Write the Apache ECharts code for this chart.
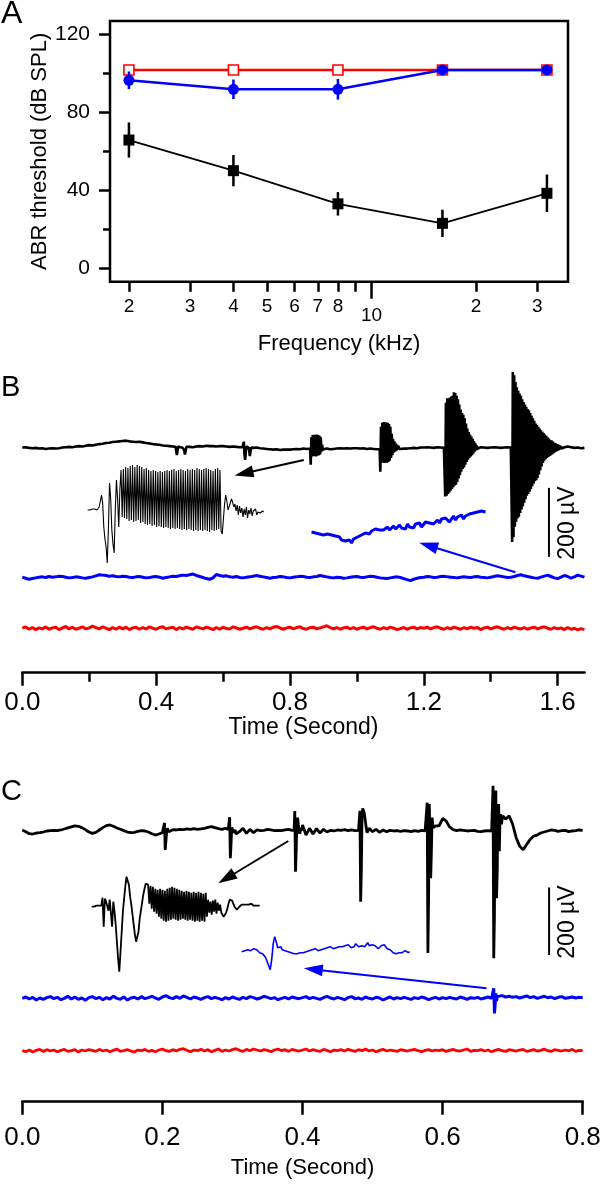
<!DOCTYPE html>
<html><head><meta charset="utf-8">
<script src="https://cdn.jsdelivr.net/npm/echarts@6/dist/echarts.min.js"></script>
<style>html,body{margin:0;padding:0;background:#fff}#c{width:602px;height:1186px}</style>
</head><body><div id="c"></div>
<script>
// ===== Panel A: ABR thresholds =====
const freqKHz  = [2, 4, 8, 16, 32];
const thrBlack = [65.7, 50, 33, 23, 38.4];
const errBlack = [9, 8, 6, 7, 9.6];
const thrBlue  = [96.3, 91.7, 91.7, 101.6, 101.6];
const errBlue  = [4.5, 5, 5.3, 0, 0];
const thrRed   = [101.6, 101.6, 101.6, 101.6, 101.6];
const yTicksA  = [0, 40, 80, 120];
const yMinorA  = [20, 60, 100];
const xTicksA  = [2, 3, 4, 5, 6, 7, 8, 9, 20, 30];
const xLabelsA = [2, 3, 4, 5, 6, 7, 8, 20, 30];
const xDecadeA = [10];

// ===== Panel B: recordings (µV, sampled every 0.01 s) =====
const bTicks = [0, 0.4, 0.8, 1.2, 1.6];
const bMinorTicks = [0.2, 0.6, 1.0, 1.4];
const bBlackBase = [
0,1,-1,-2,-1,-3,-2,-4,-3,-2, -3,-2,0,1,2,1,3,4,3,5, 7,6,8,10,11,13,14,16,17,18, 19,20,18,17,16,17,15,13,12,10,
9,8,6,5,4,3,2,3,2,2, 2,1,3,4,3,5,4,4,3,4, 4,3,2,3,2,1,0,-1,0,-1, 0,-2,-3,-4,-5,-6,-5,-7,-6,-6,
-6,-5,-4,-5,-3,-4,-3,-2,-4,-3, -4,-3,-5,-4,-3,-2,-3,-2,-3,-2, -2,-3,-2,-4,-3,-4,-5,-4,-5,-4, -6,-5,-4,-5,-3,-3,-2,-1,-2,0,
0,1,0,-1,1,0,-1,0,1,-1, 0,1,-1,0,1,0,-1,1,0,-1, 0,1,0,-1,0,1,0,-1,0,1, -1,2,0,1,-1,0,2,1,0,-1, 0,2,4,3,1,-1,0,-2,-1];
// bursts (sampled every 0.002 s) and their start times
const bBurstStart = [0.458, 0.658, 0.860, 1.068, 1.262, 1.462];
const bBurst1 = [2,-10,-22,-8,3,1,0,1,0,-1,0,1,0,-8,-20,-11,2,1,2];
const bBurst2 = [1,6,17,-20,-36,-12,3,1,2,0,-8,-25,-12,0,-1];
const bBurst3 = [-3,-50,30,-26,36,-22,37,-25,35,-26,38,-24,36,-22,34,-20,30,-12,8,-6,-3];
const bBurst4 = [-4,-70,60,-44,72,-42,74,-45,70,-40,73,-44,71,-42,68,-38,60,-30,40,-22,25,-15,18,-12,12,-9,8,-6,5,-4,-5];
const bBurst5 = [0,-142,130,-140,143,-135,140,-130,145,-125,148,-120,150,-115,160,-110,158,-108,150,-100,140,-90,125,-80,110,-70,100,-62,95,-58,85,-50,70,-42,55,-35,45,-30,38,-26,32,-22,25,-17,18,-12,12,-8,6,-4,1];
const bBurst6 = [0,-274,219,-260,210,-230,190,-215,175,-205,165,-201,157,-190,150,-180,140,-170,132,-160,125,-150,118,-140,112,-135,108,-128,100,-120,92,-112,85,-105,78,-98,70,-95,65,-88,60,-78,55,-66,50,-55,46,-45,42,-38,38,-34,34,-30,30,-27,26,-24,22,-22,20,-19,17,-16,14,-13,12,-11,10,-9,8,-7,6,-5,4,-3,2,-1,0];
const bBlueBase = [
0,-3,-6,-4,-2,0,1,-1,2,0, 1,3,2,0,-2,-1,1,0,-2,-3, -1,1,4,7,6,5,3,4,2,1, 3,2,0,-1,1,2,0,-2,-1,1,
2,0,-3,-1,1,3,2,4,6,5, 7,9,5,2,-1,-4,-6,-2,8,5, 3,4,1,0,2,-1,-2,0,1,3, 5,3,1,-1,-3,-1,0,2,1,-1,
-2,0,1,3,2,0,-1,1,2,5, 3,1,-1,-2,0,-1,-3,-2,0,1, 2,0,-1,1,3,2,0,-2,-3,-4, -2,0,1,-1,-4,-7,-10,-6,-3,-1,
0,2,1,-1,0,2,3,1,0,-1, -2,0,1,0,-1,1,2,0,-1,-2, 0,2,4,3,1,-1,0,2,5,7, 4,2,0,-2,-3,0,3,6,2,-2, -4,0,5,2,-3,1,6,3,0];
const bRedBase = [
0,4,-3,2,-4,1,-2,4,-3,1, 3,-4,1,5,-2,3,-3,0,4,-2, 1,6,2,-2,4,0,-4,2,-3,3, -2,3,-4,1,3,-3,2,-2,4,0,
-3,2,4,-2,1,3,-4,2,-2,3, 0,-3,4,1,-2,3,0,-4,2,-3, 3,-1,-2,4,1,-3,0,3,-2,2, 4,0,-3,2,-2,3,5,1,-3,1,
3,-2,2,4,-1,-3,2,3,-2,1, 4,7,2,-2,2,-3,1,3,-2,2, -3,1,3,-2,2,4,0,-3,2,-2, 3,0,-4,-1,2,-3,1,3,-2,2,
0,3,-2,2,4,0,-3,2,-2,3, 0,-3,2,-2,3,0,2,-4,1,3, -2,2,4,0,-3,2,-2,3,0,-2, 2,-3,1,3,-2,2,4,0,-3,2, -2,1,-4,2,-3,0,-5,-1,-4];
// insets (panel units, one sample per step)
const bInsetBlack = [
-1,0,-1,1,0,-1,0,1,-1,0, 2,8,14,6,-18, -30,-38,-54,-20,26, 10,-21,-35,-44,0, 29,10,-18,20,39,
-8,40,-9,42,-10,41,-12,43,-11,44, -13,42,-12,44,-11,43,-14,42,-13,40, -15,41,-16,39,-15,38,-17,39,-16,38,
-18,37,-17,38,-18,37,-19,38,-18,39, -19,38,-20,39,-19,40,-20,38,-19,39, -20,40,-21,39,-20,38,-21,40,-20,39,
-21,40,-22,39,-21,41,-22,40,-21,39, -22,40,-21,41,-22,40,-23,39,-21,38, -22,40,-21,41,-20,39,-22,
-25,-10,5,14,8,-1,-3,6,10,7, 2,5,-2,4,-6,3,-4,1,-8,0, -6,2,-9,-1,-5,1,-7,-2,-4,0, -6,-3,-2,-4,-3,-2,-3];
const bInsetBlue = [
0,2,-1,1,-2,0,-3,-1,-2,-4, -3,-5,-4,-6,-5,-8,-7,-9,-10,-8, -11,-7,-9,-5,-6,-3,-4,-1,0,-2, 1,0,3,1,2,4,2,3,5,2,
4,6,3,5,7,4,6,3,8,5, 7,4,8,6,9,5,7,10,8,9, 11,8,10,12,9,13,11,14,12,10, 13,16,12,15,14,17,13,16,15,18, 16,19,17,20,18,21,19,20];
const scaleBarUV = 200;

// ===== Panel C: recordings (µV, sampled every 0.005 s) =====
const cTicks = [0, 0.2, 0.4, 0.6, 0.8];
const cBlackBase = [
3,-2,-8,-9,-6,-5,-3,0,1,2, 1,3,6,9,12,15,14,10,4,-3, -7,-4,3,10,16,18,14,9,5,1, -3,-5,-4,-1,1,0,-3,-8,-12,-9,
-5,2,3,4,3,5,4,6,5,7, 5,6,8,11,13,10,7,5,8,10, 0,-9,-2,8,-7,5,-5,3,1,2, 5,3,1,2,1,3,5,2,1,0,
18,-12,8,-9,7,-6,5,-3,2,0, 3,2,4,1,3,1,2,3,0,2, -2,5,-4,3,-2,2,0,1,-1,1, 0,-2,1,-1,2,0,-1,1,2,15,
37,30,12,4,1,3,2,0,1,2, -1,-2,0,1,2,-1,1,0,35,45, 20,-20,-45,-56,-40,-25,-15,-12,-6,-3, 0,3,2,-1,1,2,-2,0,1,3, 2];
// click responses (sampled every 0.001 s) and their start times
const cSpikeStart = [0.200, 0.294, 0.387, 0.480, 0.576, 0.670];
const cSpike1 = [-5,-4,-3,24,-56,-30,-5,8,3,-2,1,2];
const cSpike2 = [5,6,41,-81,-40,10,15,5,-5,0,3];
const cSpike3 = [0,2,59,-121,-60,30,40,20,5,-8,-3,8,2];
const cSpike4 = [2,3,60,-210,-120,50,67,62,55,40,25,10,-5,-10,2,8,3];
const cSpike5 = [1,2,84,-362,-200,80,75,-140,-60,40,20,10,5,10,15];
const cSpike6 = [0,3,134,-378,-250,100,120,-200,-120,60,80,-60,40,50,20,35,45];
const cBlueBase = [
0,4,-2,3,-5,1,-3,2,5,-1, 3,-4,0,6,-2,4,-3,1,-6,2, 5,-1,3,-4,2,-2,6,0,-3,4, -5,1,3,-2,5,-1,2,6,1,-3,
4,8,2,-1,5,0,7,3,-2,4, 1,-3,2,5,-1,3,0,-4,2,-2, 4,0,-3,3,-1,5,2,-2,1,6, 3,-1,2,-4,0,3,-2,4,1,-1,
2,5,-1,3,0,-3,2,6,1,-2, 3,0,-4,2,5,-1,1,-3,4,0, -2,3,1,-5,0,4,-2,2,-1,3, 0,-3,2,-1,4,1,-4,0,3,-2,
2,-1,3,0,-2,4,1,-3,2,0, 3,-2,1,4,0,2,5,8,4,6, 3,5,1,4,7,2,5,0,3,6, 2,4,-1,3,5,0,2,4,1,3, 2];
const cBlueSpikeStart = [0.672];
const cBlueSpike1 = [2,30,-45,-20,15,-8,5,3];
const cRedBase = [
0,-3,2,-4,1,4,-2,3,-1,2, -3,1,4,-2,0,3,-4,2,-1,3, 1,-2,4,-1,2,-3,1,5,-2,0, 3,-1,-4,2,0,4,-2,1,-3,2,
5,0,-2,3,-1,4,6,1,-3,2, 0,4,-1,3,-3,1,5,-2,2,-1, 3,6,1,-2,4,0,5,2,-1,3, 1,-3,2,5,0,3,-2,4,1,-1,
2,5,-1,3,0,-2,4,1,-3,2, 0,3,-1,4,1,-2,3,0,5,-1, 2,-3,1,4,-1,2,0,-2,3,1, -1,2,4,0,-3,1,3,-1,2,0,
3,-2,1,4,0,-1,2,5,-2,1, 0,3,-1,2,-3,1,4,0,-2,3, 1,-1,2,4,-2,0,3,-1,1,5, 0,-2,3,1,-1,2,0,4,-2,1, 0];
const cInsetBlack = [
0,1,0,-1,1,0,1,0,1, 9,-20,8,5,6,-4,7,8,-20,5,
-5,-18,-35,-52,-65,-45,-25,-5,8,20, 30,32,22,10,2,-8,-18,-28,-35,-37, -25,-12,-4,4,12,18,23,25,
22,3,21,-2,20,-5,18,-7,17,-10, 18,-12,17,-14,16,-15,18,-14,19,-13, 20,-12,19,-13,18,-14,17,-13,16,-12,
15,-13,16,-14,15,-13,14,-14,15,-15, 14,-14,15,-15,14,-14,13,-15,14,-10,
7,-6,5,-8,6,-5,7,-7,4,-4, 2,-6,-8,-10,-9,-6,-2,3,7,8, 6,3,0,-2,-3,-2,0,1,2,3, 2,3,2,3,2,2,3,2,1,2, 1,2,1,1];
const cInsetBlue = [
0,2,1,-1,2,3,1,2,3,1, 2,0,-1,-2,-2,-4,-6,-8,-14,-18, -8,8,15,10,4,3,5,2,4,1, 3,0,1,-1,0,-2,-1,-2,-1,-1,
0,-1,1,0,2,1,0,2,1,3, 2,1,3,2,4,3,2,4,3,5, 4,3,5,4,6,5,3,5,4,6, 5,7,6,4,6,5,8,6,5,7,
6,8,5,7,9,6,8,7,5,6, 4,3,5,6,4,7,5,3,1,2, 0,-1,1,-2,0,-1,1,-1,0,1,0,-1,0];

// ===== helpers =====
function buildTrace(base, dt, starts, events, evDt, offset) {
  const wins = starts.map((t0, k) => [t0, t0 + (events[k].length - 1) * evDt]);
  const pts = [];
  base.forEach((v, i) => {
    const t = +(i * dt).toFixed(4);
    if (!wins.some(w => t >= w[0] - 1e-9 && t <= w[1] + 1e-9)) pts.push([t, v + offset]);
  });
  events.forEach((arr, k) => arr.forEach((v, j) => pts.push([+(starts[k] + j * evDt).toFixed(4), v + offset])));
  pts.sort((a, b) => a[0] - b[0]);
  return pts;
}
const idx = arr => arr.map((v, i) => [i, v]);
const FONT = "'Liberation Sans', Arial, Helvetica, sans-serif";
function arrow(x1, y1, x2, y2, color, lw) {
  const dx = x2 - x1, dy = y2 - y1, L = Math.hypot(dx, dy), ux = dx / L, uy = dy / L;
  const hl = 19, hw = 6, bx = x2 - ux * hl, by = y2 - uy * hl;
  return [
    {type: 'line', silent: true, shape: {x1: x1, y1: y1, x2: bx + ux * 2, y2: by + uy * 2}, style: {stroke: color, lineWidth: lw}},
    {type: 'polygon', silent: true, shape: {points: [[x2, y2], [bx - uy * hw, by + ux * hw], [bx + uy * hw, by - ux * hw]]}, style: {fill: color}}
  ];
}
function txt(x, y, s, size, align, rot) {
  return {type: 'text', silent: true, x: x, y: y, rotation: rot || 0,
    style: {text: s, font: size + 'px ' + FONT, fill: '#000', textAlign: align || 'left', textVerticalAlign: 'middle'}};
}

// ===== offsets (layout of stacked traces, µV) =====
const offB = {black: 653, blue: 277, red: 129};
const offC = {black: 804, blue: 307, red: 151.5};

const bBlack = buildTrace(bBlackBase, 0.01, bBurstStart, [bBurst1, bBurst2, bBurst3, bBurst4, bBurst5, bBurst6], 0.002, offB.black);
const bBlue = buildTrace(bBlueBase, 0.01, [], [], 0.002, offB.blue);
const bRed = buildTrace(bRedBase, 0.01, [], [], 0.002, offB.red);
const cBlack = buildTrace(cBlackBase, 0.005, cSpikeStart, [cSpike1, cSpike2, cSpike3, cSpike4, cSpike5, cSpike6], 0.001, offC.black);
const cBlue = buildTrace(cBlueBase, 0.005, cBlueSpikeStart, [cBlueSpike1], 0.001, offC.blue);
const cRed = buildTrace(cRedBase, 0.005, [], [], 0.001, offC.red);

const axisLineStyle = {color: '#000', width: 2.5};
const hiddenAxis = (g, min, max) => ({gridIndex: g, type: 'value', min: min, max: max, show: false});

const grids = [
  {left: 110, top: 21, width: 458, height: 260.7, show: true, borderColor: '#000', borderWidth: 2.5, backgroundColor: 'transparent'},
  {left: 22.3, top: 327.9, width: 562.3, height: 344.8},
  {left: 22.3, top: 765, width: 560.4, height: 336.7},
  {left: 87.7, top: 459, width: (bInsetBlack.length - 1) * 1.15, height: 110},
  {left: 311.5, top: 507, width: (bInsetBlue.length - 1) * 2, height: 40},
  {left: 91.7, top: 866.7, width: (cInsetBlack.length - 1) * 1.2, height: 110},
  {left: 241.7, top: 931.7, width: (cInsetBlue.length - 1) * 1.5, height: 45}
].map(g => Object.assign({outerBoundsMode: 'none', containLabel: false}, g));

const tickStyle = {color: '#000', width: 2.5};
const xAxes = [
  {gridIndex: 0, type: 'log', logBase: 10, min: 1.764, max: 36.8, position: 'bottom',
   axisLine: {show: false, onZero: false}, splitLine: {show: false}, minorTick: {show: false},
   axisTick: {show: true, customValues: xTicksA, length: 10, lineStyle: tickStyle},
   axisLabel: {customValues: xLabelsA, formatter: v => String(v >= 20 ? Math.round(v / 10) : Math.round(v)), fontSize: 19, color: '#000', margin: 16, fontFamily: FONT},
   name: 'Frequency (kHz)', nameLocation: 'middle', nameGap: 51, nameMoveOverlap: false,
   nameTextStyle: {fontSize: 22, color: '#000', fontFamily: FONT}},
  {gridIndex: 0, type: 'log', logBase: 10, min: 1.764, max: 36.8, position: 'bottom',
   axisLine: {show: false, onZero: false}, splitLine: {show: false}, minorTick: {show: false},
   axisTick: {show: true, customValues: xDecadeA, length: 17, lineStyle: tickStyle},
   axisLabel: {customValues: xDecadeA, formatter: v => String(Math.round(v)), fontSize: 19, color: '#000', margin: 25, fontFamily: FONT}},
  {gridIndex: 1, type: 'value', min: 0, max: 1.6805, position: 'bottom',
   axisLine: {show: true, onZero: false, lineStyle: axisLineStyle}, splitLine: {show: false},
   axisTick: {show: true, customValues: bTicks, length: 13, lineStyle: tickStyle},
   axisLabel: {customValues: bTicks, formatter: v => v.toFixed(1), fontSize: 26, color: '#000', margin: 17, fontFamily: FONT},
   name: 'Time (Second)', nameLocation: 'middle', nameGap: 43, nameMoveOverlap: false,
   nameTextStyle: {fontSize: 23, color: '#000', fontFamily: FONT}},
  {gridIndex: 1, type: 'value', min: 0, max: 1.6805, position: 'bottom',
   axisLine: {show: false, onZero: false}, splitLine: {show: false}, axisLabel: {show: false},
   axisTick: {show: true, customValues: bMinorTicks, length: 9, lineStyle: tickStyle}},
  {gridIndex: 2, type: 'value', min: 0, max: 0.8, position: 'bottom',
   axisLine: {show: true, onZero: false, lineStyle: axisLineStyle}, splitLine: {show: false},
   axisTick: {show: true, customValues: cTicks, length: 13, lineStyle: tickStyle},
   axisLabel: {customValues: cTicks, formatter: v => v.toFixed(1), fontSize: 26, color: '#000', margin: 23, fontFamily: FONT},
   name: 'Time (Second)', nameLocation: 'middle', nameGap: 55, nameMoveOverlap: false,
   nameTextStyle: {fontSize: 22, color: '#000', fontFamily: FONT}},
  hiddenAxis(3, 0, bInsetBlack.length - 1),
  hiddenAxis(4, 0, bInsetBlue.length - 1),
  hiddenAxis(5, 0, cInsetBlack.length - 1),
  hiddenAxis(6, 0, cInsetBlue.length - 1)
];
const yAxes = [
  {gridIndex: 0, type: 'value', min: -6.9, max: 126.7, position: 'left',
   axisLine: {show: false, onZero: false}, splitLine: {show: false},
   axisTick: {show: true, customValues: yTicksA, length: 11, lineStyle: tickStyle},
   axisLabel: {customValues: yTicksA, fontSize: 21, color: '#000', margin: 20, fontFamily: FONT},
   name: 'ABR threshold (dB SPL)', nameLocation: 'middle', nameGap: 59, nameMoveOverlap: false,
   nameTextStyle: {fontSize: 22, color: '#000', fontFamily: FONT}},
  {gridIndex: 0, type: 'value', min: -6.9, max: 126.7, position: 'left',
   axisLine: {show: false, onZero: false}, splitLine: {show: false}, axisLabel: {show: false},
   axisTick: {show: true, customValues: yMinorA, length: 7, lineStyle: tickStyle}},
  hiddenAxis(1, 0, 1000),
  hiddenAxis(2, 0, 1000),
  hiddenAxis(3, -60, 50),
  hiddenAxis(4, -15, 25),
  hiddenAxis(5, -70, 40),
  hiddenAxis(6, -25, 20)
];

const trace = (name, data, xi, yi, color, w) => ({
  name: name, type: 'line', xAxisIndex: xi, yAxisIndex: yi, data: data, symbol: 'none', showSymbol: false,
  sampling: null, clip: false, silent: true, animation: false,
  lineStyle: {color: color, width: w, join: 'bevel', cap: 'butt'}
});
const errBarSeries = (vals, errs, color) => ({
  type: 'custom', xAxisIndex: 0, yAxisIndex: 0, clip: false, silent: true, z: 4,
  data: freqKHz.map((f, i) => [f, vals[i] - errs[i], vals[i] + errs[i]]),
  encode: {x: 0, y: [1, 2]},
  renderItem: (params, api) => {
    const p1 = api.coord([api.value(0), api.value(1)]);
    const p2 = api.coord([api.value(0), api.value(2)]);
    return {type: 'line', shape: {x1: p1[0], y1: p1[1], x2: p2[0], y2: p2[1]}, style: {stroke: color, lineWidth: 2.5}};
  }
});

// scale bar positions (time on axis, bottom value in µV)
const sbB = {t: 1.574, v: 336};
const sbC = {t: 0.752, v: 436};

const series = [
  {type: 'line', xAxisIndex: 0, yAxisIndex: 0, data: freqKHz.map((f, i) => [f, thrBlack[i]]), symbol: 'rect', symbolSize: 11,
   itemStyle: {color: '#000'}, lineStyle: {color: '#000', width: 1.8}, z: 3, clip: false, silent: true},
  errBarSeries(thrBlack, errBlack, '#000'),
  {type: 'line', xAxisIndex: 0, yAxisIndex: 0, data: freqKHz.map((f, i) => [f, thrRed[i]]), symbol: 'rect', symbolSize: 10,
   itemStyle: {color: '#fff', borderColor: '#ff0000', borderWidth: 1.6}, lineStyle: {color: '#ff0000', width: 2.5}, z: 5, clip: false, silent: true},
  {type: 'line', xAxisIndex: 0, yAxisIndex: 0, data: freqKHz.map((f, i) => [f, thrBlue[i]]), symbol: 'circle', symbolSize: 11,
   itemStyle: {color: '#0000ff'}, lineStyle: {color: '#0000ff', width: 2.5}, z: 6, clip: false, silent: true},
  Object.assign(errBarSeries(thrBlue, errBlue, '#0000ff'), {z: 7}),

  trace('B black', bBlack, 2, 2, '#000', 2.6),
  trace('B blue', bBlue, 2, 2, '#0000ff', 3),
  trace('B red', bRed, 2, 2, '#ff0000', 3),
  trace('B scale', [[sbB.t, sbB.v], [sbB.t, sbB.v + scaleBarUV]], 2, 2, '#000', 2),
  trace('B inset black', idx(bInsetBlack), 5, 4, '#000', 1.1),
  trace('B inset blue', idx(bInsetBlue), 6, 5, '#0000ff', 3),

  trace('C black', cBlack, 4, 3, '#000', 2.8),
  trace('C blue', cBlue, 4, 3, '#0000ff', 3),
  trace('C red', cRed, 4, 3, '#ff0000', 2.8),
  trace('C scale', [[sbC.t, sbC.v], [sbC.t, sbC.v + scaleBarUV]], 4, 3, '#000', 2),
  trace('C inset black', idx(cInsetBlack), 7, 6, '#000', 1.8),
  trace('C inset blue', idx(cInsetBlue), 8, 7, '#0000ff', 1.6)
];

const graphics = [].concat(
  [txt(1, 14, 'A', 32), txt(1, 388, 'B', 29), txt(1, 792, 'C', 29),
   txt(568, 523, '200 µV', 23, 'center', Math.PI / 2),
   txt(568, 922, '200 µV', 23, 'center', Math.PI / 2)],
  arrow(303.8, 460, 234.6, 475.5, '#000', 2),
  arrow(515.4, 572.3, 419.2, 542.7, '#0000ff', 2),
  arrow(288.3, 841, 218.3, 883.3, '#000', 2),
  arrow(486.5, 988.3, 303.8, 968.3, '#0000ff', 2)
);

const chart = echarts.init(document.getElementById('c'), null, {renderer: 'canvas'});
chart.setOption({
  animation: false,
  backgroundColor: '#fff',
  textStyle: {fontFamily: FONT},
  tooltip: {show: false},
  grid: grids, xAxis: xAxes, yAxis: yAxes, series: series,
  graphic: {elements: graphics}
});
</script></body></html>
